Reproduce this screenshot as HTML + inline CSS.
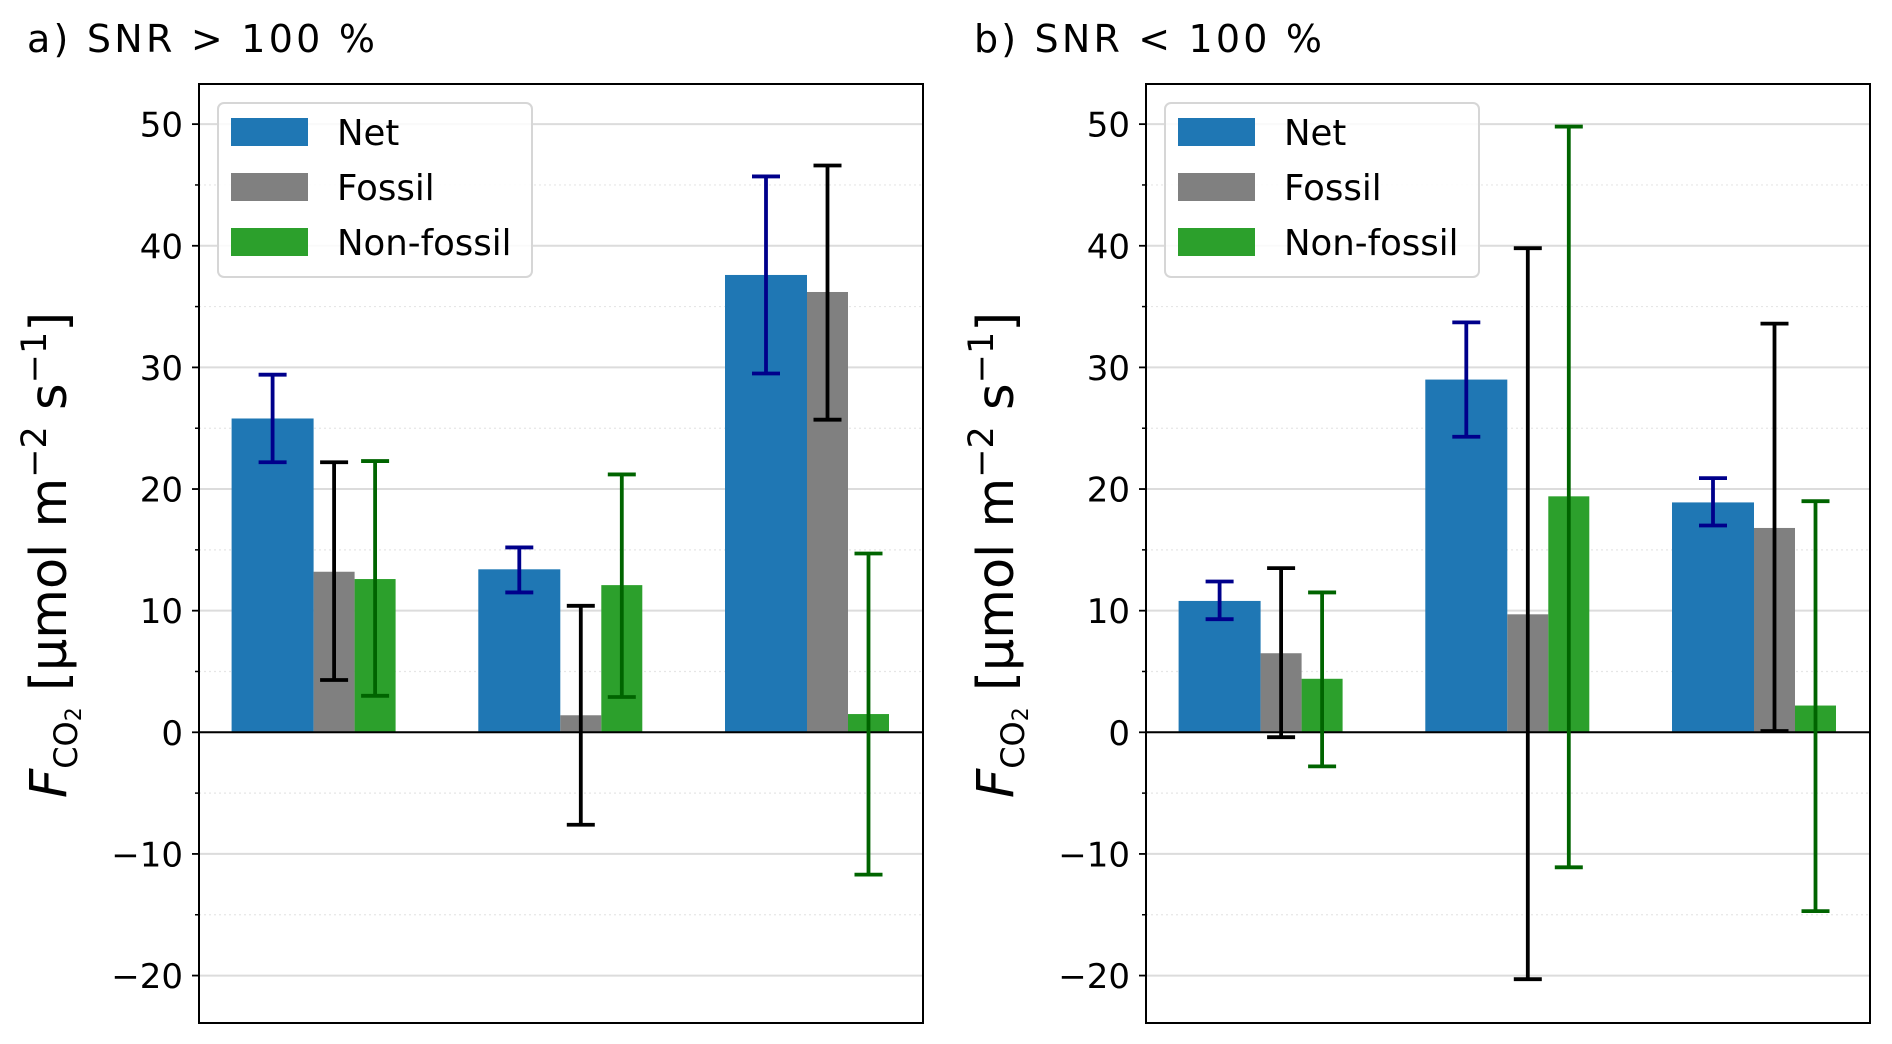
<!DOCTYPE html>
<html><head><meta charset="utf-8"><style>
html,body{margin:0;padding:0;background:#fff}
svg{display:block;font-family:"DejaVu Sans","Liberation Sans",sans-serif}
</style></head><body>
<svg id="chart" width="1892" height="1044" viewBox="0 0 1892 1044" xmlns="http://www.w3.org/2000/svg"></svg>
<script>
const categories = ["Site 1", "Site 2", "Site 3"];
const seriesNames = ["Net", "Fossil", "Non-fossil"];
const yTicks = [-20, -10, 0, 10, 20, 30, 40, 50];
const yMinorTicks = [-15, -5, 5, 15, 25, 35, 45];
const aNet = [25.8, 13.4, 37.6];
const aNetLo = [22.2, 11.5, 29.5];
const aNetHi = [29.4, 15.2, 45.7];
const aFossil = [13.2, 1.4, 36.2];
const aFossilLo = [4.3, -7.6, 25.7];
const aFossilHi = [22.2, 10.4, 46.6];
const aNon = [12.6, 12.1, 1.5];
const aNonLo = [3.0, 2.9, -11.7];
const aNonHi = [22.3, 21.2, 14.7];
const bNet = [10.8, 29.0, 18.9];
const bNetLo = [9.3, 24.3, 17.0];
const bNetHi = [12.4, 33.7, 20.9];
const bFossil = [6.5, 9.7, 16.8];
const bFossilLo = [-0.4, -20.3, 0.1];
const bFossilHi = [13.5, 39.8, 33.6];
const bNon = [4.4, 19.4, 2.2];
const bNonLo = [-2.8, -11.1, -14.7];
const bNonHi = [11.5, 49.8, 19.0];

const NS = "http://www.w3.org/2000/svg";
const svg = document.getElementById("chart");
function mk(tag, attrs, parent) {
  const e = document.createElementNS(NS, tag);
  for (const k in attrs) e.setAttribute(k, attrs[k]);
  (parent || svg).appendChild(e);
  return e;
}
const Y_MIN = -23.9, Y_MAX = 53.3;
const TOP = 84, BOT = 1023;
function yScale(v) { return BOT - (v - Y_MIN) / (Y_MAX - Y_MIN) * (BOT - TOP); }

function panel(left, right, title, net, netLo, netHi, fos, fosLo, fosHi, non, nonLo, nonHi, key) {
  const g = mk("g", {});
  
  
  const W = right - left;
  const pitch = 246.7, netW = 82, smW = 41, off = 32.6;
  function xGroup(i) { return left + off + i * pitch; }
  const t = mk("text", {x: left - 172, y: 52, "font-size": 38, fill: "#000", textLength: 348, lengthAdjust: "spacing"}, g);
  t.textContent = title;
  
  
  yMinorTicks.forEach(v => {
    const l = mk("line", {x1: left, x2: right, y1: yScale(v), y2: yScale(v), stroke: "#e6e6e6", "stroke-width": 1.2, "stroke-dasharray": "2,3"}, g);
    
    
    const tk = mk("line", {x1: left - 4, x2: left, y1: yScale(v), y2: yScale(v), stroke: "#000", "stroke-width": 1.5}, g);
    
    
  });
  yTicks.forEach(v => {
    const l = mk("line", {x1: left, x2: right, y1: yScale(v), y2: yScale(v), stroke: "#dcdcdc", "stroke-width": 2}, g);
    
    
    const tk = mk("line", {x1: left - 7, x2: left, y1: yScale(v), y2: yScale(v), stroke: "#000", "stroke-width": 1.8}, g);
    
    
    const lb = mk("text", {x: left - 16, y: yScale(v) + 12.5, "font-size": 34, "text-anchor": "end", fill: "#000"}, g);
    lb.textContent = v < 0 ? "\u2212" + Math.abs(v) : String(v);
    
    
  });
  const series = [
    {vals: net, lo: netLo, hi: netHi, color: "#1f77b4", ecol: "#00008b", dx: 0, w: netW, name: "net"},
    {vals: fos, lo: fosLo, hi: fosHi, color: "#808080", ecol: "#000000", dx: netW, w: smW, name: "fossil"},
    {vals: non, lo: nonLo, hi: nonHi, color: "#2ca02c", ecol: "#006400", dx: netW + smW, w: smW, name: "non-fossil"}
  ];
  series.forEach(s => {
    s.vals.forEach((v, i) => {
      const x = xGroup(i) + s.dx;
      const y0 = yScale(0), y1 = yScale(v);
      const r = mk("rect", {x: x, y: Math.min(y0, y1), width: s.w, height: Math.abs(y0 - y1), fill: s.color}, g);
      
      
    });
  });
  const z = mk("line", {x1: left, x2: right, y1: yScale(0), y2: yScale(0), stroke: "#000", "stroke-width": 2}, g);
  
  
  series.forEach(s => {
    s.vals.forEach((v, i) => {
      const cx = xGroup(i) + s.dx + s.w / 2;
      const eg = mk("g", {stroke: s.ecol, "stroke-width": 3.8}, g);
      
      
      mk("line", {x1: cx, x2: cx, y1: yScale(s.lo[i]), y2: yScale(s.hi[i])}, eg);
      mk("line", {x1: cx - 14, x2: cx + 14, y1: yScale(s.lo[i]), y2: yScale(s.lo[i])}, eg);
      mk("line", {x1: cx - 14, x2: cx + 14, y1: yScale(s.hi[i]), y2: yScale(s.hi[i])}, eg);
    });
  });
  const f = mk("rect", {x: left, y: TOP, width: W, height: BOT - TOP, fill: "none", stroke: "#000", "stroke-width": 2}, g);
  
  
  const lg = mk("g", {}, g);
  
  
  mk("rect", {x: left + 19, y: 103, width: 314, height: 174, rx: 6, fill: "#fff", "fill-opacity": 0.85, stroke: "#d6d6d6", "stroke-width": 2}, lg);
  series.forEach((s, k) => {
    const cy = 132 + k * 55;
    const sw = mk("rect", {x: left + 32, y: cy - 14, width: 77, height: 28, fill: s.color}, lg);
    
    
    const tx = mk("text", {x: left + 138, y: cy + 13, "font-size": 35.5, fill: "#000"}, lg);
    tx.textContent = seriesNames[k];
    
    
  });
  const yl = mk("text", {x: 0, y: 0, "font-size": 51, "text-anchor": "middle", fill: "#000", transform: "translate(" + (left - 133) + ",555) rotate(-90)"}, g);
  
  
  const a = mk("tspan", {"font-style": "italic"}, yl); a.textContent = "F";
  const b = mk("tspan", {"font-size": 32, dy: 11}, yl); b.textContent = "CO";
  const c = mk("tspan", {"font-size": 22, dy: 4}, yl); c.textContent = "2";
  const d = mk("tspan", {dy: -15}, yl); d.textContent = " [\u03bcmol m";
  const e = mk("tspan", {"font-size": 35, dy: -20}, yl); e.textContent = "\u22122";
  const f2 = mk("tspan", {dy: 20}, yl); f2.textContent = " s";
  const h = mk("tspan", {"font-size": 35, dy: -20}, yl); h.textContent = "\u22121";
  const i2 = mk("tspan", {dy: 20}, yl); i2.textContent = "]";
}
panel(199, 923, "a) SNR > 100 %", aNet, aNetLo, aNetHi, aFossil, aFossilLo, aFossilHi, aNon, aNonLo, aNonHi, "a");
panel(1146, 1870, "b) SNR < 100 %", bNet, bNetLo, bNetHi, bFossil, bFossilLo, bFossilHi, bNon, bNonLo, bNonHi, "b");
</script>
</body></html>
